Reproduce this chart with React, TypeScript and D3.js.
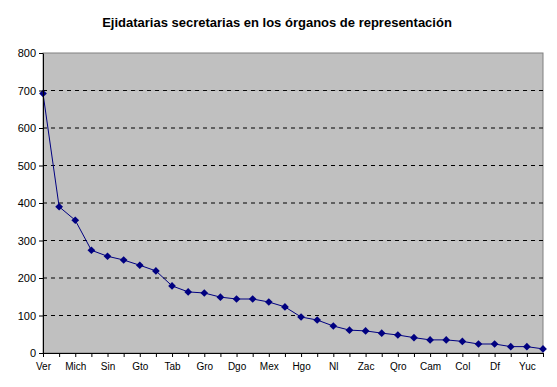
import React, { useEffect, useRef } from "react";
import * as d3 from "d3";

const title = "Ejidatarias secretarias en los órganos de representación";

// 32 states, only every other one is labelled on the axis
const stateLabels = [
  "Ver", "Mich", "Sin", "Gto", "Tab", "Gro", "Dgo", "Mex",
  "Hgo", "Nl", "Zac", "Qro", "Cam", "Col", "Df", "Yuc",
];

const secretarias = [
  692, 390, 354, 274, 258, 248, 234, 219, 179, 163, 160, 149, 144, 144, 136, 123,
  96, 88, 72, 61, 59, 53, 48, 41, 35, 35, 31, 24, 24, 17, 17, 11,
];

const yTicks = [0, 100, 200, 300, 400, 500, 600, 700, 800];

const W = 557;
const H = 387;
const margin = { top: 53, right: 14, bottom: 34, left: 43 };

const App = () => {
  const xAxisRef = useRef<SVGGElement>(null);
  const yAxisRef = useRef<SVGGElement>(null);

  const innerW = W - margin.left - margin.right;
  const innerH = H - margin.top - margin.bottom;

  const idx = secretarias.map((_, i) => i);
  const x = d3.scalePoint<number>().domain(idx).range([0, innerW]);
  const y = d3.scaleLinear().domain([0, 800]).range([innerH, 0]);

  useEffect(() => {
    const xAxis = d3
      .axisBottom(x)
      .tickSizeOuter(0)
      .tickSize(4)
      .tickFormat((d) => (d % 2 === 0 ? stateLabels[d / 2] : ""));
    const gx = d3.select(xAxisRef.current!).call(xAxis as any);
    gx.select(".domain").attr("stroke", "#000");
    gx.selectAll("line").attr("stroke", "#000");
    gx.selectAll("text")
      .attr("font-family", "Liberation Sans, Arial, sans-serif")
      .attr("font-size", 10)
      .attr("dy", "0.95em")
      .attr("fill", "#000");

    const yAxis = d3
      .axisLeft(y)
      .tickValues(yTicks)
      .tickSize(4)
      .tickSizeOuter(0);
    const gy = d3.select(yAxisRef.current!).call(yAxis as any);
    gy.select(".domain").attr("stroke", "#000");
    gy.selectAll("line").attr("stroke", "#000");
    gy.selectAll("text")
      .attr("font-family", "Liberation Sans, Arial, sans-serif")
      .attr("font-size", 11)
      .attr("x", -7)
      .attr("fill", "#000");
  }, []);

  const line = d3
    .line<number>()
    .x((_, i) => x(i)!)
    .y((d) => y(d));

  const diamond = d3.symbol().type(d3.symbolDiamond2).size(38)();

  return (
    <svg
      width={W}
      height={H}
      style={{ position: "absolute", left: 0, top: 0, background: "#fff" }}
    >
      <text
        x={277}
        y={27}
        textAnchor="middle"
        fontFamily="Liberation Sans, Arial, sans-serif"
        fontWeight="bold"
        fontSize={13}
      >
        {title}
      </text>
      <g transform={`translate(${margin.left},${margin.top})`}>
        <rect
          x={0}
          y={0}
          width={innerW}
          height={innerH}
          fill="#C0C0C0"
          stroke="#808080"
        />
        {yTicks
          .filter((t) => t > 0 && t < 800)
          .map((t) => (
            <line
              key={t}
              x1={0}
              x2={innerW}
              y1={y(t)}
              y2={y(t)}
              stroke="#000"
              strokeDasharray="4,4"
            />
          ))}
        <path d={line(secretarias) ?? ""} fill="none" stroke="#000080" />
        {secretarias.map((d, i) => (
          <path
            key={i}
            d={diamond ?? ""}
            transform={`translate(${x(i)},${y(d)})`}
            fill="#000080"
          />
        ))}
        <g ref={xAxisRef} transform={`translate(0,${innerH})`} />
        <g ref={yAxisRef} />
      </g>
    </svg>
  );
};

export default App;
